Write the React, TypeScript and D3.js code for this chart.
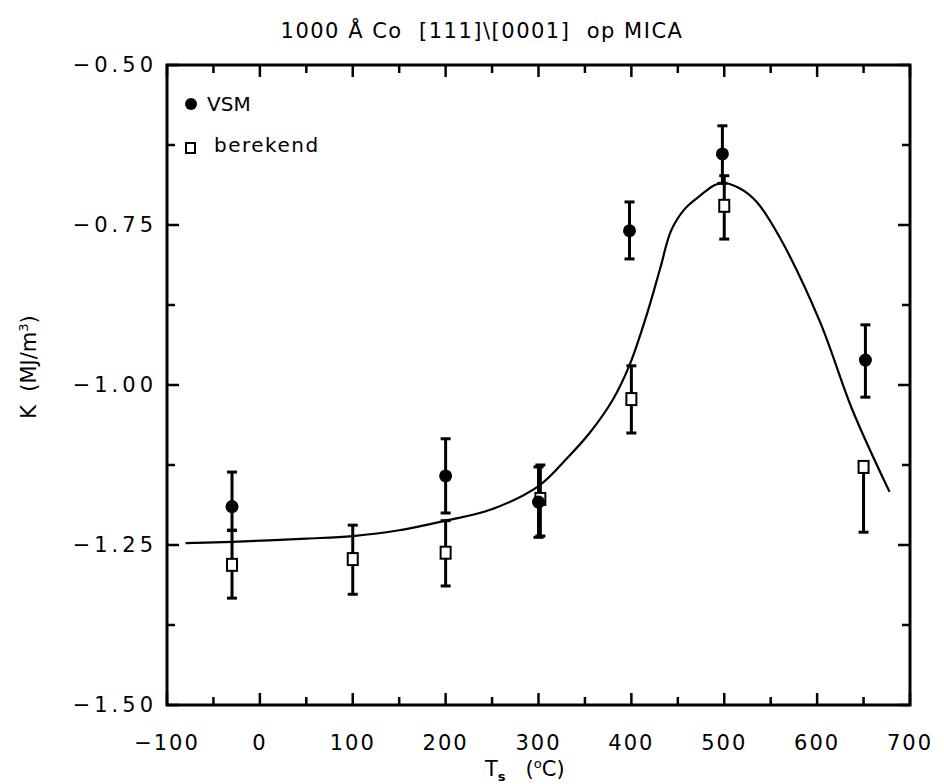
import React from 'react'
import * as d3 from 'd3'

// chart values
const vsmT = [-30, 200, 300, 398, 498, 652]
const vsmK = [-1.19, -1.142, -1.183, -0.759, -0.639, -0.961]
const vsmLo = [-1.227, -1.20, -1.238, -0.803, -0.685, -1.019]
const vsmHi = [-1.136, -1.084, -1.128, -0.714, -0.595, -0.906]

const berT = [-30, 100, 200, 302, 400, 500, 650]
const berK = [-1.281, -1.272, -1.262, -1.178, -1.022, -0.72, -1.128]
const berLo = [-1.333, -1.327, -1.314, -1.236, -1.075, -0.772, -1.23]
const berHi = [-1.227, -1.219, -1.212, -1.125, -0.97, -0.673, -1.12]

const fitT = [-80, -30, 50, 100, 150, 200, 248, 300, 331, 355, 380, 398, 417, 431, 443, 458, 475, 488, 498, 517, 535, 560, 603, 638, 678]
const fitK = [-1.247, -1.245, -1.24, -1.236, -1.227, -1.212, -1.195, -1.158, -1.114, -1.075, -1.023, -0.969, -0.888, -0.818, -0.758, -0.724, -0.703, -0.689, -0.684, -0.693, -0.714, -0.77, -0.901, -1.039, -1.167]

const xTicks = [-100, 0, 100, 200, 300, 400, 500, 600, 700]
const yTicks = [-0.5, -0.75, -1.0, -1.25, -1.5]

const W = 944
const H = 784
const margin = {top: 65, right: 34, bottom: 79, left: 167}

const font = '"DejaVu Sans", sans-serif'

export default function App() {
    const x = d3.scaleLinear().domain([-100, 700]).range([margin.left, W - margin.right])
    const y = d3.scaleLinear().domain([-1.5, -0.5]).range([H - margin.bottom, margin.top])

    const x0 = x.range()[0], x1 = x.range()[1]
    const y0 = y.range()[0], y1 = y.range()[1]

    const minorX = d3.range(-50, 700, 100)
    const minorY = d3.range(-1.375, -0.5, 0.25)

    const fit = d3.line<number>()
        .x(d => x(fitT[d]))
        .y(d => y(fitK[d]))
        .curve(d3.curveCatmullRom)(fitT.map((_, i) => i))

    const errBar = (t: number, lo: number, hi: number, key: string) => (
        <g key={key} stroke="#000" strokeWidth={3}>
            <line x1={x(t)} x2={x(t)} y1={y(lo)} y2={y(hi)} />
            <line x1={x(t) - 5} x2={x(t) + 5} y1={y(lo)} y2={y(lo)} />
            <line x1={x(t) - 5} x2={x(t) + 5} y1={y(hi)} y2={y(hi)} />
        </g>
    )

    return (
        <svg width={W} height={H} style={{display: 'block', position: 'absolute', left: 0, top: 0, background: '#fff'}}
             fontFamily={font}>
            {/* title */}
            <text x={482} y={38} textAnchor="middle" fontSize={21} letterSpacing={1.5} style={{whiteSpace: 'pre'}}>
                {'1000 Å Co  [111]\\[0001]  op MICA'}
            </text>

            {/* frame */}
            <rect x={x0} y={y1} width={x1 - x0} height={y0 - y1} fill="none" stroke="#000" strokeWidth={3} />

            {/* x ticks */}
            {xTicks.map(t => (
                <g key={'xt' + t} stroke="#000" strokeWidth={2.5}>
                    <line x1={x(t)} x2={x(t)} y1={y0} y2={y0 - 12} />
                    <line x1={x(t)} x2={x(t)} y1={y1} y2={y1 + 12} />
                </g>
            ))}
            {minorX.map(t => (
                <g key={'xm' + t} stroke="#000" strokeWidth={2.5}>
                    <line x1={x(t)} x2={x(t)} y1={y0} y2={y0 - 8} />
                    <line x1={x(t)} x2={x(t)} y1={y1} y2={y1 + 8} />
                </g>
            ))}
            {xTicks.map(t => (
                <text key={'xl' + t} x={x(t)} y={y0 + 45} textAnchor="middle" fontSize={21} letterSpacing={2}>
                    {t < 0 ? '\u2212' + Math.abs(t) : t}
                </text>
            ))}

            {/* y ticks */}
            {yTicks.map(v => (
                <g key={'yt' + v} stroke="#000" strokeWidth={2.5}>
                    <line x1={x0} x2={x0 + 12} y1={y(v)} y2={y(v)} />
                    <line x1={x1} x2={x1 - 12} y1={y(v)} y2={y(v)} />
                </g>
            ))}
            {minorY.map(v => (
                <g key={'ym' + v} stroke="#000" strokeWidth={2.5}>
                    <line x1={x0} x2={x0 + 8} y1={y(v)} y2={y(v)} />
                    <line x1={x1} x2={x1 - 8} y1={y(v)} y2={y(v)} />
                </g>
            ))}
            {yTicks.map(v => (
                <text key={'yl' + v} x={x0 - 10} y={y(v)} dy="0.35em" textAnchor="end" fontSize={21} letterSpacing={4}>
                    {'\u2212' + Math.abs(v).toFixed(2)}
                </text>
            ))}

            {/* axis labels */}
            <text transform={`translate(36,367) rotate(-90)`} textAnchor="middle" fontSize={21} style={{whiteSpace: 'pre'}}>
                K  (MJ/m<tspan dy={-8} fontSize={13}>3</tspan><tspan dy={8}>)</tspan>
            </text>
            <text x={485} y={776} fontSize={21} style={{whiteSpace: 'pre'}}>
                T<tspan dy={5} fontSize={13} fontWeight="bold">s</tspan><tspan dy={-5}>{'   ('}</tspan><tspan dy={-8} fontSize={13}>o</tspan><tspan dy={8}>C)</tspan>
            </text>

            {/* fitted curve */}
            <path d={fit ?? ''} fill="none" stroke="#000" strokeWidth={2.2} />

            {/* error bars */}
            {berT.map((t, i) => errBar(t, berLo[i], berHi[i], 'be' + i))}
            {vsmT.map((t, i) => errBar(t, vsmLo[i], vsmHi[i], 've' + i))}

            {/* markers */}
            {berT.map((t, i) => (
                <rect key={'bm' + i} x={x(t) - 5} y={y(berK[i]) - 6} width={10} height={12}
                      fill="#fff" stroke="#000" strokeWidth={2} />
            ))}
            {vsmT.map((t, i) => (
                <circle key={'vm' + i} cx={x(t)} cy={y(vsmK[i])} r={6.5} fill="#000" />
            ))}

            {/* legend */}
            <circle cx={191} cy={104} r={6} fill="#000" />
            <text x={207} y={104} dy="0.35em" fontSize={20}>VSM</text>
            <rect x={186} y={143} width={9} height={10} fill="#fff" stroke="#000" strokeWidth={2} />
            <text x={214} y={145} dy="0.35em" fontSize={20} letterSpacing={1.5}>berekend</text>
        </svg>
    )
}
